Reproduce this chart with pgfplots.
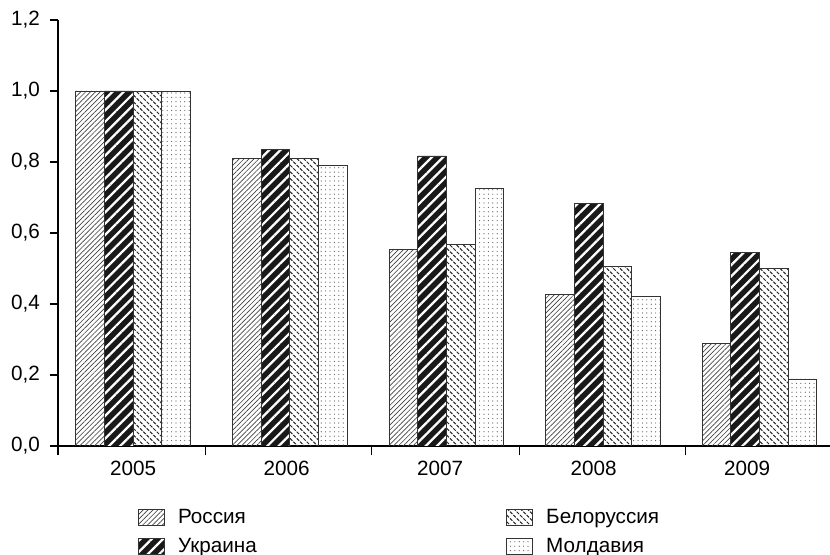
\documentclass[border=0pt]{standalone}
\usepackage{fontspec}
\setmainfont{Liberation Sans}
\usepackage{pgfplots}
\pgfplotsset{compat=1.18}
\usetikzlibrary{patterns,patterns.meta,calc}

% dashed north-west hatching (Belarus)
\tikzdeclarepattern{
  name=dashnw,
  type=uncolored,
  bounding box={(-0.5pt,-0.5pt) and (5.5pt,5.5pt)},
  tile size={(5pt,5pt)},
  code={
    \pgfsetlinewidth{0.75pt}
    \pgfpathmoveto{\pgfqpoint{0pt}{5pt}}\pgfpathlineto{\pgfqpoint{1.8pt}{3.2pt}}
    \pgfpathmoveto{\pgfqpoint{2.5pt}{2.5pt}}\pgfpathlineto{\pgfqpoint{4.3pt}{0.7pt}}
    \pgfusepath{stroke}
  }
}

\begin{document}
\begin{tikzpicture}
\begin{axis}[
    name=ax,
    scale only axis,
    width=579pt, height=319.5pt,
    font=\fontsize{15.5}{18}\selectfont,
    tick label style={font=\fontsize{15.5}{18}\selectfont},
    ybar=0pt, bar width=21.5pt,
    xmin=-0.48, xmax=4.45,
    ymin=0, ymax=1.2,
    axis lines*=left,
    axis line style={line width=0.8pt},
    tick style={black, line width=0.8pt},
    tick align=outside,
    xtick={0,0.98,1.96,2.94,3.92},
    xticklabels={2005,2006,2007,2008,2009},
    major x tick style={draw=none},
    minor xtick={-0.48,0.46,1.52,2.47,3.53},
    minor tick length=7pt,
    major tick length=6pt,
    ytick={0,0.2,...,1.21},
    yticklabel style={xshift=-4pt, /pgf/number format/.cd, fixed, fixed zerofill, precision=1, use comma, assume math mode=true},
    xticklabel style={yshift=-2pt, /pgf/number format/assume math mode=true},
    legend columns=2,
    transpose legend,
    legend cell align=left,
    legend style={draw=none, fill=none, at={(0.098,-0.135)}, anchor=north west,
        /tikz/every odd column/.append style={column sep=8pt},
        /tikz/every even column/.append style={column sep=185pt},
        row sep=5.5pt, font=\fontsize{15.5}{17}\selectfont},
    legend image code/.code={\draw[#1, line width=0.6pt] (0pt,-6pt) rectangle (19.5pt,6pt);},
]
\addplot[draw=black!80, line width=0.6pt, pattern={Lines[angle=45,distance=2.6pt,line width=0.5pt]}, pattern color=black!75]
  coordinates {(0,1.0) (1,0.81) (2,0.554) (3,0.428) (4,0.288)};
\addplot[draw=black!80, line width=0.6pt, preaction={fill=black!90}, pattern={Lines[angle=45,distance=6pt,line width=1.7pt]}, pattern color=white]
  coordinates {(0,1.0) (1,0.836) (2,0.817) (3,0.684) (4,0.546)};
\addplot[draw=black!80, line width=0.6pt, pattern=dashnw, pattern color=black!85]
  coordinates {(0,1.0) (1,0.81) (2,0.568) (3,0.505) (4,0.50)};
\addplot[draw=black!80, line width=0.6pt, pattern={Dots[distance=3.3pt,radius=0.45pt]}, pattern color=black!65]
  coordinates {(0,1.0) (1,0.79) (2,0.725) (3,0.42) (4,0.189)};
\legend{Россия, Украина, Белоруссия, Молдавия}
\end{axis}
\pgfresetboundingbox
\useasboundingbox ($(ax.south west)+(-43.5pt,-81.75pt)$) rectangle ($(ax.north east)+(0,15pt)$);
\end{tikzpicture}
\end{document}
